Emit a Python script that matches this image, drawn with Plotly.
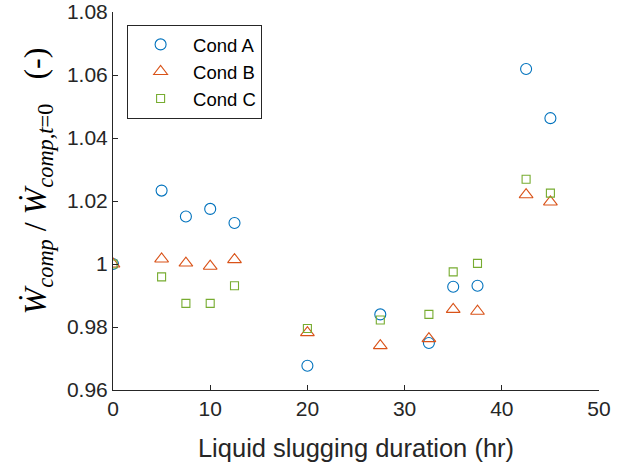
import plotly.graph_objects as go

hours = [0, 5, 7.5, 10, 12.5, 20, 27.5, 32.5, 35, 37.5, 42.5, 45]
cond_a = [1.0, 1.0233, 1.0151, 1.0175, 1.0130, 0.9677, 0.9840, 0.9749, 0.9928, 0.9931, 1.0619, 1.0463]
cond_b = [1.0, 1.0016, 1.0003, 0.9993, 1.0014, 0.9782, 0.9741, 0.9763, 0.9856, 0.9850, 1.0220, 1.0197]
cond_c = [1.0, 0.9959, 0.9875, 0.9875, 0.9931, 0.9795, 0.9822, 0.9840, 0.9975, 1.0002, 1.0269, 1.0225]

x_ticks = [0, 10, 20, 30, 40, 50]
y_ticks = [0.96, 0.98, 1.0, 1.02, 1.04, 1.06, 1.08]
y_tick_labels = ["0.96", "0.98", "1", "1.02", "1.04", "1.06", "1.08"]

axis_color = "#262626"

fig = go.Figure()
fig.add_trace(go.Scatter(x=hours, y=cond_a, mode="markers", name="Cond A",
                         marker=dict(symbol="circle-open", size=11, color="#0072BD",
                                     line=dict(width=1.1, color="#0072BD"))))
fig.add_trace(go.Scatter(x=hours, y=cond_b, mode="markers", name="Cond B",
                         marker=dict(symbol="triangle-up-open", size=12, color="#D95319",
                                     line=dict(width=1.1, color="#D95319"))))
fig.add_trace(go.Scatter(x=hours, y=cond_c, mode="markers", name="Cond C",
                         marker=dict(symbol="square-open", size=8, color="#77AC30",
                                     line=dict(width=1.1, color="#77AC30"))))

y_title = ("&nbsp;&nbsp;&nbsp;&nbsp;&nbsp;<i>Ẇ</i><sub><i>comp</i></sub>&nbsp;/&nbsp;"
           "<i>Ẇ</i><sub><i>comp,t</i>=0</sub>&nbsp;&nbsp;&nbsp;(-)")

fig.update_layout(
    width=624, height=462,
    margin=dict(l=113, r=25, t=12, b=72),
    paper_bgcolor="white", plot_bgcolor="white",
    font=dict(family="Liberation Sans, Arial, sans-serif", color=axis_color, size=20),
    showlegend=True,
    legend=dict(x=0.029, y=0.966, xanchor="left", yanchor="top",
                bgcolor="white", bordercolor=axis_color, borderwidth=1,
                font=dict(size=18.5, color="black"), tracegroupgap=0,
                itemwidth=55),
    xaxis=dict(range=[0, 50], tickvals=x_ticks, showline=True, linecolor=axis_color,
               linewidth=1, ticks="inside", ticklen=5, tickcolor=axis_color,
               showgrid=False, zeroline=False, mirror=False, ticklabeloverflow="allow",
               automargin=False,
               tickfont=dict(size=21, color=axis_color),
               title=dict(text="Liquid slugging duration (hr)", font=dict(size=25.5, color=axis_color),
                          standoff=22)),
    yaxis=dict(range=[0.96, 1.08], tickvals=y_ticks, ticktext=y_tick_labels, showline=True,
               linecolor=axis_color, linewidth=1, ticks="inside", ticklen=5,
               tickcolor=axis_color, showgrid=False, zeroline=False, mirror=False,
               ticklabeloverflow="allow", automargin=False,
               tickfont=dict(size=21, color=axis_color),
               title=dict(text=y_title,
                          font=dict(family="Liberation Serif, DejaVu Serif, serif", size=32, color="black"),
                          standoff=10)),
)

fig.write_html("out.html", config={"displayModeBar": False},
               post_script="document.body.style.margin='0';")
